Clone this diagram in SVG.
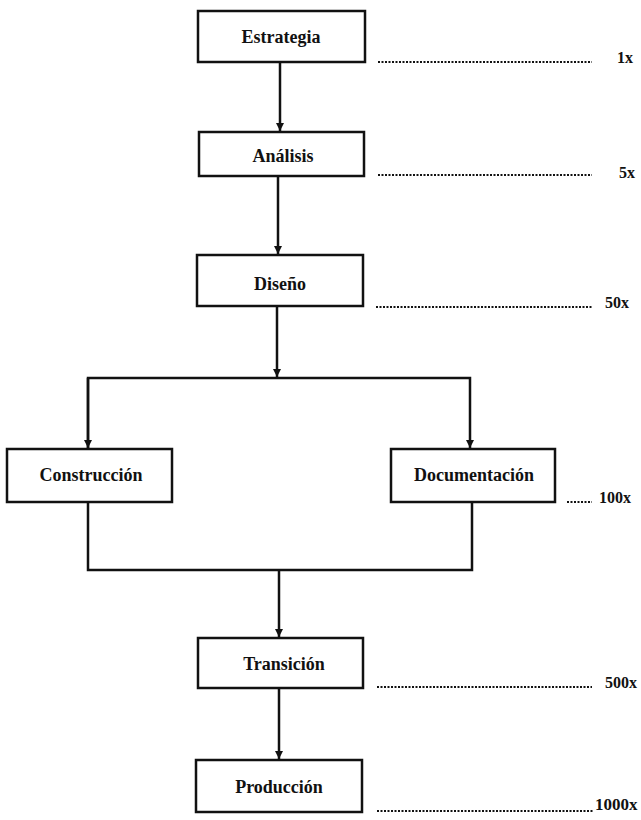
<svg xmlns="http://www.w3.org/2000/svg" width="641" height="820" viewBox="0 0 641 820">
<style>
.box{fill:#fff;stroke:#111;stroke-width:2.5}
.lbl{font-family:"Liberation Serif","Times New Roman",serif;font-weight:bold;font-size:18px;fill:#111;text-anchor:middle}
.fac{font-family:"Liberation Serif","Times New Roman",serif;font-weight:bold;font-size:16px;fill:#111}
.ln{fill:none;stroke:#111;stroke-width:2.5}
.dot{fill:none;stroke:#111;stroke-width:2;stroke-dasharray:2 1.5}
</style>
<defs>
<marker id="arr" viewBox="0 0 10 10" refX="10" refY="5" markerWidth="3.2" markerHeight="4" orient="auto" markerUnits="strokeWidth">
<path d="M0,0 L10,5 L0,10 z" fill="#111"/>
</marker>
</defs>
<rect width="641" height="820" fill="#fff"/>
<g id="connectors">
<line class="ln" x1="280" y1="62" x2="280" y2="131" marker-end="url(#arr)"/>
<line class="ln" x1="278" y1="176" x2="278" y2="254" marker-end="url(#arr)"/>
<line class="ln" x1="277" y1="306" x2="277" y2="377" marker-end="url(#arr)"/>
<polyline class="ln" points="88,448 88,378 470,378 470,448" marker-end="url(#arr)"/>
<line class="ln" x1="88" y1="378" x2="88" y2="448" marker-end="url(#arr)"/>
<polyline class="ln" points="88,502 88,570 472,570 472,502"/>
<line class="ln" x1="279" y1="570" x2="279" y2="637" marker-end="url(#arr)"/>
<line class="ln" x1="279" y1="688" x2="279" y2="759" marker-end="url(#arr)"/>
</g>
<g id="estrategia"><rect class="box" x="198" y="11" width="167" height="51"/><text class="lbl" x="281" y="43">Estrategia</text></g>
<g id="analisis"><rect class="box" x="199" y="132" width="165" height="44"/><text class="lbl" x="283" y="162">Análisis</text></g>
<g id="diseno"><rect class="box" x="197" y="255" width="166" height="51"/><text class="lbl" x="280" y="290">Diseño</text></g>
<g id="construccion"><rect class="box" x="7" y="449" width="165" height="53"/><text class="lbl" x="91" y="481">Construcción</text></g>
<g id="documentacion"><rect class="box" x="391" y="449" width="164" height="53"/><text class="lbl" x="474" y="481">Documentación</text></g>
<g id="transicion"><rect class="box" x="198" y="638" width="165" height="50"/><text class="lbl" x="284" y="670">Transición</text></g>
<g id="produccion"><rect class="box" x="196" y="760" width="166" height="52"/><text class="lbl" x="279" y="793">Producción</text></g>
<g id="factors">
<line class="dot" x1="378" y1="62" x2="592" y2="62"/><text class="fac" x="617" y="63">1x</text>
<line class="dot" x1="378" y1="175" x2="592" y2="175"/><text class="fac" x="619" y="178">5x</text>
<line class="dot" x1="376" y1="307" x2="592" y2="307"/><text class="fac" x="605" y="308">50x</text>
<line class="dot" x1="567" y1="502" x2="592" y2="502"/><text class="fac" x="599" y="503">100x</text>
<line class="dot" x1="377" y1="687" x2="592" y2="687"/><text class="fac" x="605" y="688">500x</text>
<line class="dot" x1="377" y1="811" x2="594" y2="811"/><text class="fac" x="595" y="810" style="font-size:17px">1000x</text>
</g>
</svg>
